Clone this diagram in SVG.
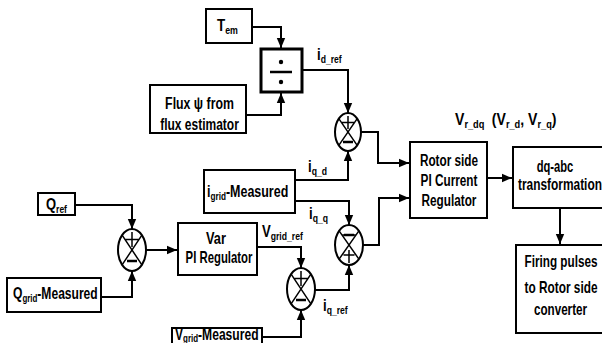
<svg xmlns="http://www.w3.org/2000/svg" width="602" height="343" viewBox="0 0 602 343">
<defs>
<style>
.box{fill:#fff;stroke:#000;stroke-width:2}
.thick{fill:#fff;stroke:#000;stroke-width:3}
.ln{fill:none;stroke:#000;stroke-width:2}
.sj{fill:#fff;stroke:#000;stroke-width:2}
.sjl{fill:none;stroke:#000;stroke-width:1.5}
.minus{stroke:#000;stroke-width:2.5}
text{font-family:"Liberation Sans",Arial,sans-serif;font-weight:bold;font-size:16px;fill:#000}
.sub{font-size:10.5px}
.mid{text-anchor:middle}
</style>
<marker id="ar" markerUnits="userSpaceOnUse" markerWidth="10" markerHeight="10" viewBox="0 0 10 10" refX="10" refY="5" orient="auto">
<path d="M0,0.8 L10,5 L0,9.2 Z" fill="#000"/>
</marker>
</defs>
<rect width="602" height="343" fill="#fff"/>

<g id="connectors">
<path class="ln" d="M252,27 H281 V48" marker-end="url(#ar)"/>
<path class="ln" d="M246,115 H281 V93" marker-end="url(#ar)"/>
<path class="ln" d="M302,70 H348 V113" marker-end="url(#ar)"/>
<path class="ln" d="M361,132 H378 V163 H409" marker-end="url(#ar)"/>
<path class="ln" d="M295,180 H348 V151" marker-end="url(#ar)"/>
<path class="ln" d="M295,201 H349 V225" marker-end="url(#ar)"/>
<path class="ln" d="M363,245 H379 V198 H409" marker-end="url(#ar)"/>
<path class="ln" d="M315,290 H349 V265" marker-end="url(#ar)"/>
<path class="ln" d="M257,247 H301 V268" marker-end="url(#ar)"/>
<path class="ln" d="M262,337 H301 V310" marker-end="url(#ar)"/>
<path class="ln" d="M75,205 H132 V229" marker-end="url(#ar)"/>
<path class="ln" d="M101,297 H132 V271" marker-end="url(#ar)"/>
<path class="ln" d="M146,250 H177" marker-end="url(#ar)"/>
<path class="ln" d="M487,178 H512" marker-end="url(#ar)"/>
<path class="ln" d="M560,208 V244" marker-end="url(#ar)"/>
</g>

<g id="labels">
<text transform="translate(317,60) scale(0.82,1)">i<tspan class="sub" dy="3">d_ref</tspan></text>
<text transform="translate(308,172) scale(0.82,1)">i<tspan class="sub" dy="3">q_d</tspan></text>
<text transform="translate(309,219) scale(0.82,1)">i<tspan class="sub" dy="3">q_q</tspan></text>
<text transform="translate(262,237) scale(0.82,1)">V<tspan class="sub" dy="3">grid_ref</tspan></text>
<text transform="translate(323,311) scale(0.82,1)">i<tspan class="sub" dy="3">q_ref</tspan></text>
<text transform="translate(455,125) scale(0.88,1)">V<tspan class="sub" dy="3">r_dq</tspan><tspan dy="-3" dx="4"> (V</tspan><tspan class="sub" dy="3">r_d</tspan><tspan dy="-3">, V</tspan><tspan class="sub" dy="3">r_q</tspan><tspan dy="-3">)</tspan></text>
</g>

<g id="tem">
<rect class="box" x="206" y="9" width="46" height="34"/>
<text transform="translate(217,31) scale(0.84,1)">T<tspan class="sub" dy="3">em</tspan></text>
</g>

<g id="divider">
<rect class="thick" x="261" y="49" width="41" height="43"/>
<line x1="270" y1="72" x2="292" y2="72" stroke="#000" stroke-width="2.5"/>
<circle cx="281" cy="62" r="2.2" fill="#000"/>
<circle cx="281" cy="82" r="2.2" fill="#000"/>
</g>

<g id="flux">
<rect class="box" x="150" y="85" width="96" height="48"/>
<text class="mid" transform="translate(199.5,109) scale(0.77,1)">Flux ψ from</text>
<text class="mid" transform="translate(199.5,130) scale(0.75,1)">flux estimator</text>
</g>

<g id="igrid">
<rect class="box" x="204" y="170" width="91" height="43"/>
<text transform="translate(207,197) scale(0.78,1)">i<tspan class="sub" dy="3">grid</tspan><tspan dy="-3">-Measured</tspan></text>
</g>

<g id="qref">
<rect class="box" x="38" y="193" width="37" height="22"/>
<text transform="translate(46,210) scale(0.81,1)">Q<tspan class="sub" dy="3">ref</tspan></text>
</g>

<g id="qgrid">
<rect class="box" x="7" y="278" width="94" height="34"/>
<text transform="translate(13,299) scale(0.755,1)">Q<tspan class="sub" dy="3">grid</tspan><tspan dy="-3">-Measured</tspan></text>
</g>

<g id="varpi">
<rect class="box" x="178" y="223" width="79" height="52"/>
<text class="mid" transform="translate(216,244) scale(0.8,1)">Var</text>
<text class="mid" transform="translate(219,263) scale(0.71,1)">PI Regulator</text>
</g>

<g id="vgrid">
<rect class="box" x="172" y="328" width="90" height="20"/>
<text transform="translate(175,339.5) scale(0.757,1)">V<tspan class="sub" dy="2.5">grid</tspan><tspan dy="-2.5">-Measured</tspan></text>
</g>

<g id="rotor">
<rect class="box" x="410" y="142" width="77" height="76"/>
<text class="mid" transform="translate(449,166) scale(0.735,1)">Rotor side</text>
<text class="mid" transform="translate(449,186) scale(0.735,1)">PI Current</text>
<text class="mid" transform="translate(449,205.5) scale(0.735,1)">Regulator</text>
</g>

<g id="dqabc">
<rect class="box" x="513" y="147" width="93" height="61"/>
<text class="mid" transform="translate(555,172) scale(0.7,1)">dq-abc</text>
<text transform="translate(518,190) scale(0.744,1)">transformation</text>
</g>

<g id="firing">
<rect class="box" x="516" y="245" width="90" height="88"/>
<text class="mid" transform="translate(561,267) scale(0.732,1)">Firing pulses</text>
<text class="mid" transform="translate(561,293) scale(0.74,1)">to Rotor side</text>
<text class="mid" transform="translate(560.5,315) scale(0.727,1)">converter</text>
</g>

<g id="sum_id">
<ellipse class="sj" cx="348" cy="132" rx="13" ry="19"/>
<path class="sjl" d="M338.8,118.6 L357.2,145.4 M357.2,118.6 L338.8,145.4 M342,122.5 H354 M348,116 V129"/>
<line class="minus" x1="343" y1="142" x2="353" y2="142"/>
</g>

<g id="sum_iq">
<ellipse class="sj" cx="349" cy="245" rx="14" ry="20"/>
<path class="sjl" d="M339.1,230.9 L358.9,259.1 M358.9,230.9 L339.1,259.1 M342.5,235 H355.5 M343.5,255 H354.5 M349,250 V263"/>
<line class="minus" x1="344" y1="235" x2="354" y2="235"/>
</g>

<g id="sum_v">
<ellipse class="sj" cx="301" cy="289" rx="14" ry="21"/>
<path class="sjl" d="M291.1,274.2 L310.9,303.8 M310.9,274.2 L291.1,303.8 M294.5,278.5 H307.5 M301,271 V286"/>
<line class="minus" x1="296" y1="300" x2="306" y2="300"/>
</g>

<g id="sum_q">
<ellipse class="sj" cx="132" cy="250" rx="14" ry="21"/>
<path class="sjl" d="M122.1,235.2 L141.9,264.8 M141.9,235.2 L122.1,264.8 M125.5,239.5 H138.5 M132,232 V247"/>
<line class="minus" x1="127" y1="261" x2="137" y2="261"/>
</g>
</svg>
